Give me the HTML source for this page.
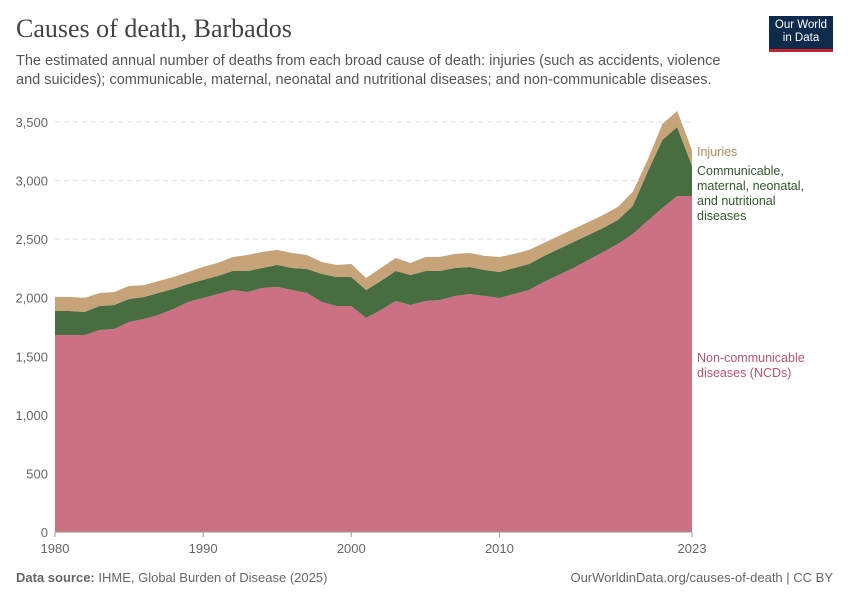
<!DOCTYPE html>
<html><head><meta charset="utf-8">
<style>
body{margin:0;background:#fff;font-family:"Liberation Sans",sans-serif;}
#wrap{position:relative;width:850px;height:600px;overflow:hidden;}
.title{position:absolute;left:16px;top:14px;font-family:"Liberation Serif",serif;font-size:26px;color:#444;}
.sub{position:absolute;left:16px;top:52px;width:720px;font-size:14.5px;line-height:19px;color:#555;}
.logo{position:absolute;left:769px;top:16px;width:64px;height:36px;background:#0e2a4d;color:#fff;font-size:11.5px;line-height:13px;text-align:center;padding-top:3px;box-sizing:border-box;border-bottom:3px solid #c8202f;}
.foot{position:absolute;top:570px;font-size:13px;color:#666;}
</style></head><body>
<div id="wrap">
<div class="title">Causes of death, Barbados</div>
<div class="sub">The estimated annual number of deaths from each broad cause of death: injuries (such as accidents, violence and suicides); communicable, maternal, neonatal and nutritional diseases; and non-communicable diseases.</div>
<div class="logo">Our World<br>in Data</div>
<svg id="chart" width="850" height="600" style="position:absolute;left:0;top:0"></svg>
<div class="foot" style="left:16px"><b>Data source:</b> IHME, Global Burden of Disease (2025)</div>
<div class="foot" style="right:17px">OurWorldinData.org/causes-of-death | CC BY</div>
</div>
<script>
const years=[];for(let y=1980;y<=2023;y++)years.push(y);
const ncd=[1682,1682,1682,1724,1733,1793,1818,1853,1904,1964,1998,2032,2066,2049,2083,2092,2066,2040,1964,1929,1929,1827,1895,1972,1938,1972,1981,2015,2032,2015,1998,2032,2066,2134,2194,2254,2322,2390,2459,2544,2655,2766,2868,2868];
const comm=[205,205,196,205,205,196,188,188,171,154,154,154,162,179,171,188,188,205,239,248,248,239,248,256,256,256,248,239,230,222,222,222,222,222,222,222,213,205,205,239,418,580,589,256];
const inj=[120,120,120,111,111,111,102,102,102,102,111,111,120,137,137,128,128,120,102,102,111,102,111,111,102,120,120,120,120,120,128,120,120,111,111,111,111,111,111,120,102,137,137,137];
const yTicks=[0,500,1000,1500,2000,2500,3000,3500];
const xTicks=[1980,1990,2000,2010,2023];
const NS='http://www.w3.org/2000/svg';
const svg=document.getElementById('chart');
const X=y=>55+(y-1980)*(692-55)/43;
const Y=v=>532-v*(410/3500);
function mk(t,a){const e=document.createElementNS(NS,t);for(const k in a)e.setAttribute(k,a[k]);svg.appendChild(e);return e;}
yTicks.forEach(v=>{
 if(v>0){const l=mk('line',{x1:55,x2:692,y1:Y(v),y2:Y(v),stroke:'#ddd','stroke-dasharray':'5,4'});
 
 }
 const t=mk('text',{x:48,y:Y(v)+5,'text-anchor':'end','font-size':13,fill:'#666','font-family':'Liberation Sans'});
 t.textContent=v.toLocaleString('en-US');
 
 
});
const base=years.map(()=>0);
const series=[[ncd,'#cc7183','ncd-area'],[comm,'#486d41','communicable-area'],[inj,'#c7a37a','injuries-area']];
let lower=base.slice();
series.forEach(([vals,col,name])=>{
 const upper=lower.map((b,i)=>b+vals[i]);
 let d='M'+years.map((y,i)=>X(y)+','+Y(upper[i])).join('L');
 for(let i=years.length-1;i>=0;i--)d+='L'+X(years[i])+','+Y(lower[i]);
 const p=mk('path',{d:d+'Z',fill:col});
 
 
 lower=upper;
});
const ax=mk('line',{x1:55,x2:692,y1:532,y2:532,stroke:'#999'});


xTicks.forEach(y=>{
 const tk=mk('line',{x1:X(y),x2:X(y),y1:532,y2:537,stroke:'#999'});
 
 
 const t=mk('text',{x:X(y),y:553,'text-anchor':'middle','font-size':13,fill:'#666','font-family':'Liberation Sans'});
 t.textContent=y;
 
 
});
const labels=[[['Injuries'],156,'#b5875a','legend-injuries'],[['Communicable,','maternal, neonatal,','and nutritional','diseases'],175,'#2f5a28','legend-communicable'],[['Non-communicable','diseases (NCDs)'],362,'#c4526a','legend-ncd']];
labels.forEach(([lines,y0,col,name])=>{
 const t=mk('text',{x:697,y:y0,'font-size':12.5,fill:col,'font-family':'Liberation Sans'});
 lines.forEach((s,i)=>{const ts=document.createElementNS(NS,'tspan');ts.setAttribute('x',697);ts.setAttribute('dy',i?15:0);ts.textContent=s;t.appendChild(ts);});
 
 
});
</script>
</body></html>
